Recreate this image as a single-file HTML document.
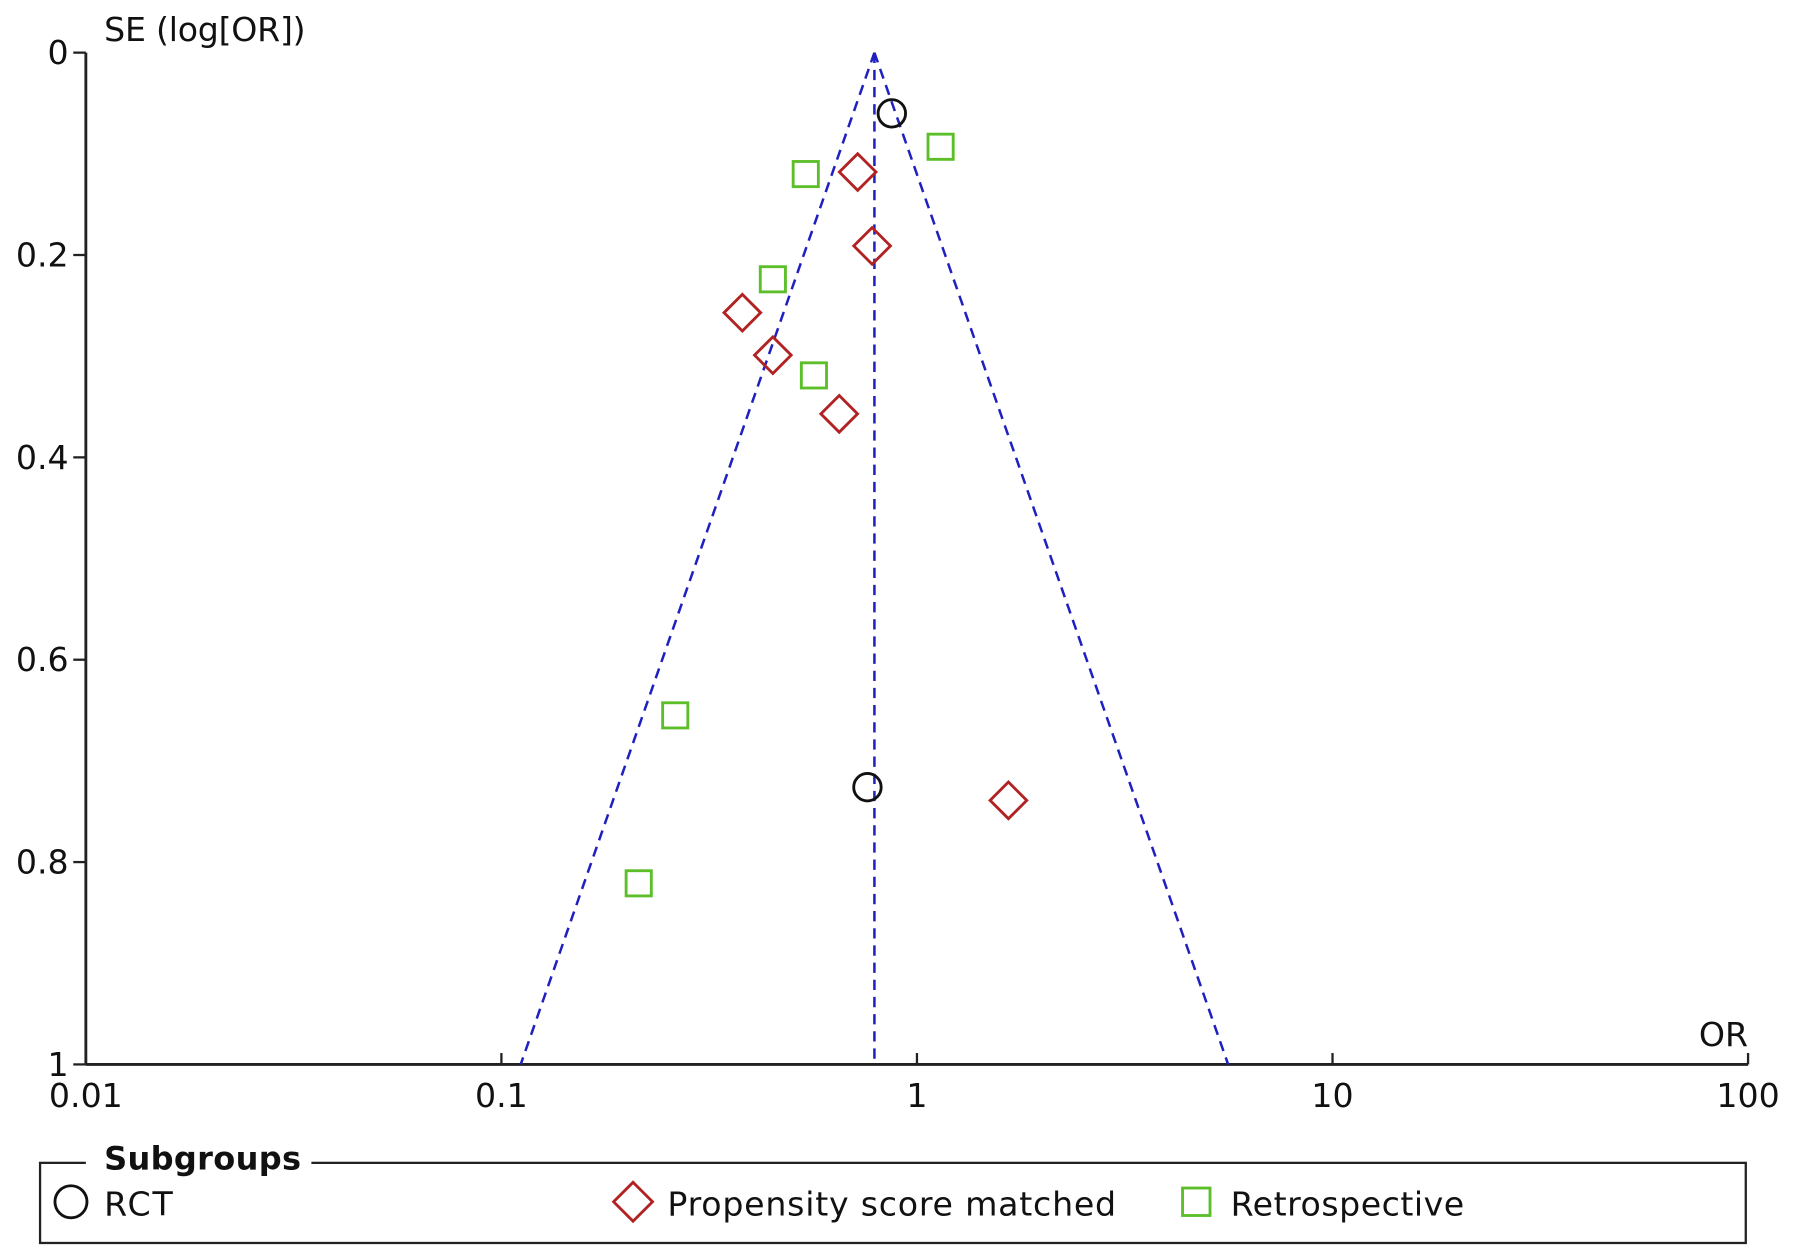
<!DOCTYPE html>
<html><head><meta charset="utf-8"><style>
html,body{margin:0;padding:0;background:#fff;}
svg{display:block;font-family:"DejaVu Sans","Liberation Sans",sans-serif;}
</style></head><body>
<svg id="chart" width="1795" height="1259" viewBox="0 0 1568 1100" preserveAspectRatio="none" xmlns="http://www.w3.org/2000/svg">
<g id="axes"></g><g id="funnel"></g><g id="marks"></g>
<g>
<rect x="35" y="1016" width="1490" height="70" fill="none" stroke="#222" stroke-width="2"/>
<rect x="75" y="1000" width="197" height="30" fill="#fff"/>
<text x="91" y="1022" font-size="28" font-weight="bold" fill="#111" textLength="172">Subgroups</text>
<circle cx="62" cy="1050" r="14" fill="none" stroke="#111" stroke-width="2.5"/>
<text x="91" y="1062" font-size="29" fill="#111" textLength="60">RCT</text>
<polygon points="553,1033 570,1050 553,1067 536,1050" fill="none" stroke="#b22222" stroke-width="2.5"/>
<text x="583" y="1062" font-size="29" fill="#111" textLength="392">Propensity score matched</text>
<rect x="1033" y="1038" width="24" height="24" fill="none" stroke="#5cbf2a" stroke-width="2.5"/>
<text x="1075" y="1062" font-size="29" fill="#111" textLength="204">Retrospective</text>
</g>
</svg>
<script>
const xTicks=[0.01,0.1,1,10,100];
const xTickLabels=["0.01","0.1","1","10","100"];
const yTicks=[0,0.2,0.4,0.6,0.8,1];
const yTickLabels=["0","0.2","0.4","0.6","0.8","1"];
const pooledOR=0.79;
const rctOR=[0.87,0.76];
const rctSE=[0.06,0.726];
const psmOR=[0.72,0.78,0.38,0.45,0.65,1.66];
const psmSE=[0.118,0.191,0.257,0.299,0.357,0.739];
const retroOR=[1.14,0.54,0.45,0.565,0.262,0.214];
const retroSE=[0.093,0.12,0.224,0.319,0.655,0.821];

const NS="http://www.w3.org/2000/svg";
const X=v=>801+363*Math.log10(v);
const Y=s=>46+884*s;
function mk(tag,attrs,parent,txt){const e=document.createElementNS(NS,tag);for(const k in attrs)e.setAttribute(k,attrs[k]);if(txt!==undefined)e.textContent=txt;parent.appendChild(e);return e;}
const axes=document.getElementById('axes'),fun=document.getElementById('funnel'),marks=document.getElementById('marks');
let a=mk('line',{x1:75,y1:Y(0),x2:75,y2:Y(1),stroke:'#222','stroke-width':2.5},axes);


a=mk('line',{x1:75,y1:Y(1),x2:1527,y2:Y(1),stroke:'#222','stroke-width':2.5},axes);


yTicks.forEach((t,i)=>{mk('line',{x1:64,y1:Y(t),x2:75,y2:Y(t),stroke:'#222','stroke-width':2},axes);
 const tx=mk('text',{x:60,y:Y(t)+10,'font-size':29,'text-anchor':'end',fill:'#111'},axes,yTickLabels[i]);
 
 });
xTicks.forEach((t,i)=>{mk('line',{x1:X(t),y1:Y(1)-10,x2:X(t),y2:Y(1),stroke:'#222','stroke-width':2},axes);
 const tx=mk('text',{x:X(t),y:Y(1)+37,'font-size':29,'text-anchor':'middle',fill:'#111'},axes,xTickLabels[i]);
 
 });
a=mk('text',{x:91,y:36,'font-size':29,fill:'#111',textLength:176},axes,'SE (log[OR])');


a=mk('text',{x:1527,y:914,'font-size':29,'text-anchor':'end',fill:'#111'},axes,'OR');


const lo=pooledOR/Math.exp(1.96),hi=pooledOR*Math.exp(1.96);
const ds={stroke:'#2020c0','stroke-width':2.2,'stroke-dasharray':'9,6',fill:'none'};
[[pooledOR,pooledOR,'pooled-line'],[lo,pooledOR,'funnel-left'],[hi,pooledOR,'funnel-right']].forEach(([b,t,n])=>{
 const l=mk('line',Object.assign({x1:X(t),y1:Y(0),x2:X(b),y2:Y(1)},ds),fun);
 
 });
rctOR.forEach((o,i)=>{const c=mk('circle',{cx:X(o),cy:Y(rctSE[i]),r:12,fill:'none',stroke:'#111','stroke-width':2.5},marks);
 
 });
psmOR.forEach((o,i)=>{const x=X(o),y=Y(psmSE[i]);const p=mk('polygon',{points:`${x},${y-16} ${x+16},${y} ${x},${y+16} ${x-16},${y}`,fill:'none',stroke:'#b22222','stroke-width':2.5},marks);
 
 });
retroOR.forEach((o,i)=>{const r=mk('rect',{x:X(o)-11,y:Y(retroSE[i])-11,width:22,height:22,fill:'none',stroke:'#5cbf2a','stroke-width':2.5},marks);
 
 });
</script>
</body></html>
